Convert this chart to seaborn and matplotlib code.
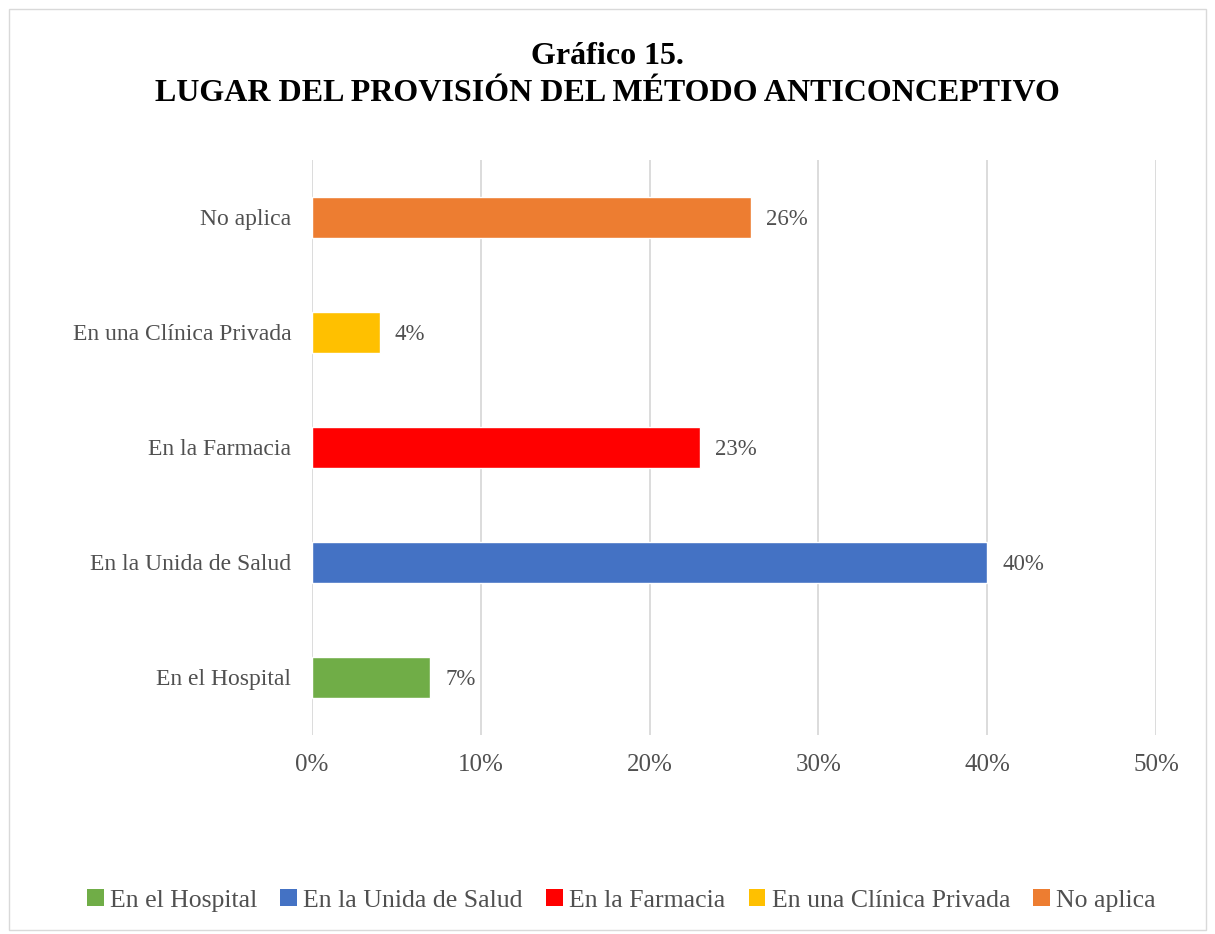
import matplotlib
matplotlib.use("Agg")
import matplotlib.pyplot as plt
from matplotlib.patches import Rectangle, Patch
import pandas as pd
import seaborn as sns

# Datos del gráfico
categorias = ["No aplica", "En una Clínica Privada", "En la Farmacia",
              "En la Unida de Salud", "En el Hospital"]
porcentajes = [26, 4, 23, 40, 7]
colores = {"En el Hospital": "#70AD47", "En la Unida de Salud": "#4472C4",
           "En la Farmacia": "#FF0000", "En una Clínica Privada": "#FFC000",
           "No aplica": "#ED7D31"}
orden_leyenda = ["En el Hospital", "En la Unida de Salud", "En la Farmacia",
                 "En una Clínica Privada", "No aplica"]
ticks_x = [0, 10, 20, 30, 40, 50]

df = pd.DataFrame({"categoria": categorias, "porcentaje": porcentajes})

sns.set_style("white")
plt.rcParams["font.family"] = ["Liberation Serif", "DejaVu Serif"]
gris = "#505050"

fig = plt.figure(figsize=(12.15, 9.34), dpi=100)
ax = fig.add_axes([0.2568, 0.2131, 0.6946, 0.6156])

sns.barplot(data=df, x="porcentaje", y="categoria", hue="categoria",
            order=categorias, palette=colores, dodge=False, width=0.35,
            orient="h", legend=False, ax=ax, saturation=1)

for i, v in enumerate(porcentajes):
    ax.text(v + 0.9, i + 0.02, f"{v}%", va="center", ha="left", fontsize=16.5, color=gris)

ax.set_xlim(0, 50)
ax.set_xticks(ticks_x)
ax.set_xticklabels([f"{t}%" for t in ticks_x], fontsize=18, color=gris)
ax.tick_params(axis="x", length=0, pad=14)
ax.tick_params(axis="y", length=0, pad=15, labelsize=17, labelcolor=gris)
ax.set_xlabel("")
ax.set_ylabel("")
ax.grid(axis="x", color="#D9D9D9", linewidth=1.3)
ax.set_axisbelow(True)
for s in ax.spines.values():
    s.set_visible(False)

fig.text(0.5, 0.94, "Gráfico 15.", ha="center", va="center",
         fontsize=23, fontweight="bold", color="black")
fig.text(0.5, 0.9, "LUGAR DEL PROVISIÓN DEL MÉTODO ANTICONCEPTIVO", ha="center",
         va="center", fontsize=23, fontweight="bold", color="black")

handles = [Patch(facecolor=colores[c], edgecolor="none") for c in orden_leyenda]
fig.legend(handles, orden_leyenda, loc="center", bbox_to_anchor=(0.5115, 0.036),
           ncol=5, frameon=False, fontsize=18.5, handlelength=0.65, handleheight=0.65,
           handletextpad=0.25, columnspacing=0.9, labelcolor=gris)

# Marco del gráfico
fig.patches.append(Rectangle((0.007, 0.004), 0.986, 0.986, transform=fig.transFigure,
                             fill=False, edgecolor="#D9D9D9", linewidth=1))

fig.savefig("out.png", dpi=100)
